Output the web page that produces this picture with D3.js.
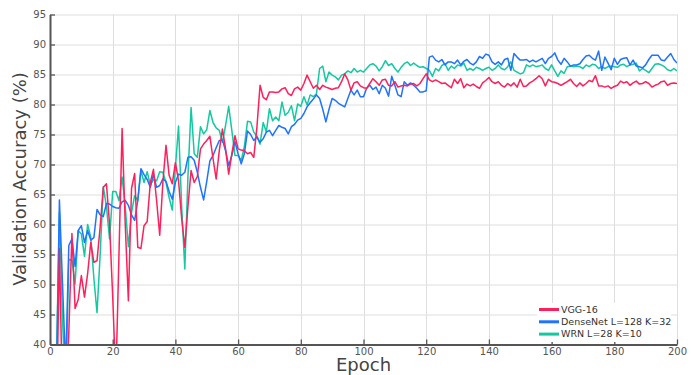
<!DOCTYPE html>
<html>
<head>
<meta charset="utf-8">
<script src="https://cdn.jsdelivr.net/npm/d3@7"></script>
<style>
  body { margin: 0; background: #fff; }
  svg { display: block; }
</style>
</head>
<body>
<div id="chart"></div>
<script>
const seriesNames = ['VGG-16', 'DenseNet L=128 K=32', 'WRN L=28 K=10'];
const seriesColors = ['#ff1f5a', '#1f73ff', '#12c9a0'];
const xTicks = [0, 20, 40, 60, 80, 100, 120, 140, 160, 180, 200];
const yTicks = [40, 45, 50, 55, 60, 65, 70, 75, 80, 85, 90, 95];

// validation accuracy per epoch, epoch 1..200
const vgg = [
  20, 25, 56, 30, 30, 42, 58.5, 46, 47.5, 51.5,
  47.9, 51.8, 57, 53.7, 54, 59.6, 66.2, 66.8, 60, 48,
  34, 55, 76, 60, 47.3, 66, 68.5, 56.2, 56, 59.8,
  60.5, 67, 69.2, 64, 58.2, 67, 73.2, 68.2, 66.8, 70.3,
  67.3, 61, 56.2, 63, 69, 67, 68, 72.6, 73.4, 74,
  74.7, 71, 67.6, 72.3, 75.9, 72.6, 68.4, 71.8, 74.8, 72.6,
  72.4, 72.3, 71.8, 72, 71.2, 76.2, 83.2, 81.2, 80.8, 82.1,
  82.1, 82, 82.1, 82.6, 82.8, 81.8, 81.5, 82.6, 82.9, 82.4,
  83.5, 84.9, 83.8, 82.7, 83.2, 82.5, 83.2, 82.9, 82.7, 82.5,
  82.7, 82.8, 83.8, 85.1, 84.1, 82.4, 83.6, 83.8, 83.1, 82.8,
  82.7, 83.5, 84.3, 83.8, 83.2, 84.1, 84.2, 83.2, 83.1, 83.8,
  82.9, 83.1, 83.2, 83.1, 83.4, 83.5, 83.1, 83.5, 84.3, 85.1,
  84.1, 83.8, 84.1, 83.8, 83.5, 83.6, 83.2, 82.8, 84.2, 83.5,
  84.3, 82.8, 83.4, 83.1, 83.4, 83, 82.7, 83.6, 84, 84.5,
  83.8, 83.5, 83.8, 83.2, 82.9, 83.5, 83.1, 83.6, 82.9, 84.2,
  83, 83.1, 83.6, 83.9, 84.3, 84.8, 84.3, 83.1, 84.2, 83.8,
  83.7, 83.5, 83.2, 83.5, 83.8, 84.2, 83.5, 83, 83.6, 83.1,
  83.5, 84, 83.8, 84.8, 83.1, 83.1, 82.9, 83.1, 82.7, 83,
  83.2, 83.9, 83.6, 83.8, 83.2, 83.6, 83.9, 83.4, 83.5, 83.8,
  83.5, 82.9, 83.2, 83.4, 83.8, 83.9, 83.2, 83.5, 83.6, 83.5
];
const densenet = [
  20, 32, 64.1, 50, 36, 56.5, 57.6, 53, 59, 59.8,
  57, 59, 57.4, 57.8, 62.5, 61.6, 61.3, 63.5, 63.4, 63,
  62.8, 62.7, 63.8, 64, 63.2, 61.6, 60.7, 64, 69.3, 68.3,
  67.5, 66.2, 68.4, 66.2, 66.5, 67.6, 67.2, 65.5, 64.2, 67,
  68.4, 68.2, 68.7, 71.2, 71.3, 70.7, 68.7, 66.2, 64.1, 67.2,
  70.6, 71.5, 72.8, 74, 74.1, 72.3, 69.8, 71.5, 73.8, 71.8,
  70.1, 71.8, 75.6, 75, 74, 74.6, 73.7, 74.3, 75.4, 75.7,
  74.8, 75.7, 76.5, 76.2, 76, 75.1, 76.3, 76.7, 77.4, 77.7,
  78.5, 79.6, 80.3, 80.9, 81.6, 81, 79.2, 77.1, 79.2, 81,
  80.7, 80.2, 79.9, 79.6, 81, 82.4, 81.6, 82.4, 81.3, 81.3,
  82.7, 83.2, 82.5, 82.9, 81.8, 83.2, 82.7, 81.4, 84.7, 83.2,
  81.6, 81.3, 83.8, 83.2, 83.6, 83.2, 82.7, 82.1, 82.1, 82.3,
  87.9, 88.1, 87.4, 87.1, 87.5, 86.6, 87.1, 87.1, 86.8, 87.4,
  86.6, 87.2, 87.5, 86.9, 86.6, 87.1, 88, 87.7, 88.4, 88.2,
  87.1, 86.7, 87.1, 86.6, 87.5, 87.7, 85.7, 88.5, 87.9, 87.4,
  87.4, 87.5, 87.1, 87.4, 87.1, 87.4, 87.7, 86.8, 87.7, 88,
  88.6, 87.4, 86.7, 87.7, 87.1, 86.4, 86.6, 86.6, 86.8, 87.5,
  88.1, 88.2, 87.7, 87.4, 88.9, 85.7, 87.9, 86.9, 85.8, 87.7,
  86.7, 87.5, 87.7, 87.8, 86.6, 87.4, 86.4, 86.3, 86.1, 86.6,
  87.5, 88.2, 88.2, 88.2, 87.4, 87.3, 87.9, 88.5, 87.5, 86.9
];
const wrn = [
  20, 36, 62, 44, 32, 54.2, 54, 50.1, 59, 58.4,
  54.7, 60, 57.9, 51, 45.3, 55, 66.3, 63, 57.6, 65.5,
  65.5, 64, 67.9, 63, 56.3, 62, 64.8, 64, 69, 67,
  68.8, 66.5, 67.5, 67.3, 68.8, 68.7, 67, 64.5, 62.4, 69.5,
  76.4, 63, 52.6, 68, 79.5, 71.8, 71.2, 76.3, 75.1, 75.8,
  79, 77, 76.1, 75.7, 73.7, 76.5, 79.7, 75.7, 71.5, 71.5,
  70.7, 73, 77.2, 77.1, 75.4, 74.7, 73.4, 77, 75.4, 79.3,
  77.3, 77.9, 77.3, 80.4, 78.2, 78.7, 79.8, 77.3, 80.1, 79.7,
  81.3, 79.9, 81.6, 81.3, 81.8, 86, 86.4, 83.8, 85.4, 84.9,
  84.6, 84.1, 84.9, 85.1, 85.6, 85.3, 86, 85.4, 85.7, 85.4,
  86, 86.6, 86.8, 86.4, 85.6, 86.3, 87.3, 86.5, 86.8, 86,
  85.4, 86.2, 86.8, 87.1, 86.5, 86.9, 86.5, 86.2, 86.3, 86,
  85.7, 84.7, 86, 85.6, 86.5, 86.8, 85.7, 86.4, 86, 86.6,
  86.4, 86.9, 85.7, 86, 85.7, 86.2, 86, 85.7, 86, 86.2,
  85.7, 86, 86.6, 86, 85.8, 86.3, 87.1, 85.7, 85.4, 85.1,
  85.3, 86.6, 86.3, 86.6, 86.3, 86.4, 86.6, 86, 85.7, 86.6,
  85.6, 84.7, 85.6, 85.2, 86.3, 86.4, 86.3, 86.4, 86.3, 86,
  86.6, 86.3, 86.7, 86.6, 86, 86.3, 86, 86.3, 86.4, 86.3,
  86.2, 86.6, 86.7, 86.3, 86.6, 86.7, 86.9, 85.6, 86, 85.7,
  85.3, 86, 86.7, 86.8, 86.6, 86.3, 85.8, 85.6, 86, 85.6
];

const WIDTH = 691;
const HEIGHT = 375;
const margin = { top: 14.5, right: 14, bottom: 30.5, left: 50 };
const innerWidth = WIDTH - margin.left - margin.right;
const innerHeight = HEIGHT - margin.top - margin.bottom;
const font = "'DejaVu Sans', Verdana, sans-serif";

const svg = d3
  .select('#chart')
  .append('svg')
  .attr('width', WIDTH)
  .attr('height', HEIGHT);

const scaleX = d3.scaleLinear().domain([0, 200]).range([0, innerWidth]);
const scaleY = d3.scaleLinear().domain([40, 95]).range([innerHeight, 0]);

const g = svg
  .append('g')
  .attr('transform', `translate(${margin.left},${margin.top})`);

// grid
g.append('g')
  .selectAll('line')
  .data(yTicks)
  .join('line')
  .attr('x1', 0)
  .attr('x2', innerWidth)
  .attr('y1', (d) => Math.round(scaleY(d)) + 0.5)
  .attr('y2', (d) => Math.round(scaleY(d)) + 0.5)
  .attr('stroke', '#dedede');
g.append('g')
  .selectAll('line')
  .data(xTicks)
  .join('line')
  .attr('x1', (d) => Math.round(scaleX(d)) + 0.5)
  .attr('x2', (d) => Math.round(scaleX(d)) + 0.5)
  .attr('y1', 0)
  .attr('y2', innerHeight)
  .attr('stroke', '#dedede');

// lines
g.append('clipPath')
  .attr('id', 'clip')
  .append('rect')
  .attr('width', innerWidth)
  .attr('height', innerHeight);

const line = d3
  .line()
  .x((d, i) => scaleX(i + 1))
  .y((d) => scaleY(d));

const allSeries = [vgg, densenet, wrn];
const plot = g.append('g').attr('clip-path', 'url(#clip)');
// draw green first, red on top like the reference
[2, 1, 0].forEach((k) => {
  plot
    .append('path')
    .datum(allSeries[k])
    .attr('d', line)
    .attr('fill', 'none')
    .attr('stroke', seriesColors[k])
    .attr('stroke-width', 1.5)
    .attr('stroke-linejoin', 'round');
});

// axes
const axisX = d3
  .axisBottom(scaleX)
  .tickValues(xTicks)
  .tickSize(-5)
  .tickPadding(3)
  .tickSizeOuter(0);
const axisY = d3
  .axisLeft(scaleY)
  .tickValues(yTicks)
  .tickSize(-5)
  .tickPadding(4)
  .tickSizeOuter(0);

const gx = g
  .append('g')
  .attr('transform', `translate(0,${innerHeight})`)
  .call(axisX);
const gy = g.append('g').call(axisY);

[gx, gy].forEach((a) => {
  a.select('.domain').attr('stroke', '#555').attr('stroke-width', 2);
  a.selectAll('.tick line').attr('stroke', '#555').attr('stroke-width', 1.3);
  a.selectAll('.tick text')
    .attr('fill', '#555')
    .style('font-family', font)
    .style('font-size', '10px');
});

// axis titles
svg
  .append('text')
  .attr('x', margin.left + innerWidth / 2)
  .attr('y', 371)
  .attr('text-anchor', 'middle')
  .attr('fill', '#444')
  .style('font-family', font)
  .style('font-size', '18px')
  .text('Epoch');
svg
  .append('text')
  .attr('transform', 'translate(26,179) rotate(-90)')
  .attr('text-anchor', 'middle')
  .attr('fill', '#444')
  .style('font-family', font)
  .style('font-size', '18px')
  .text('Validation Accuracy (%)');

// legend
const legend = svg.append('g').attr('transform', 'translate(537,303)');
legend
  .append('rect')
  .attr('width', 134)
  .attr('height', 39)
  .attr('fill', '#fff');
const rows = legend
  .selectAll('g.row')
  .data(seriesNames)
  .join('g')
  .attr('class', 'row')
  .attr('transform', (d, i) => `translate(0,${6.5 + i * 12.3})`);
rows
  .append('line')
  .attr('x1', 2)
  .attr('x2', 22)
  .attr('stroke', (d, i) => seriesColors[i])
  .attr('stroke-width', 3);
rows
  .append('text')
  .attr('x', 24)
  .attr('dy', '0.35em')
  .attr('fill', '#333')
  .style('font-family', font)
  .style('font-size', '9.5px')
  .text((d) => d);
</script>
</body>
</html>
